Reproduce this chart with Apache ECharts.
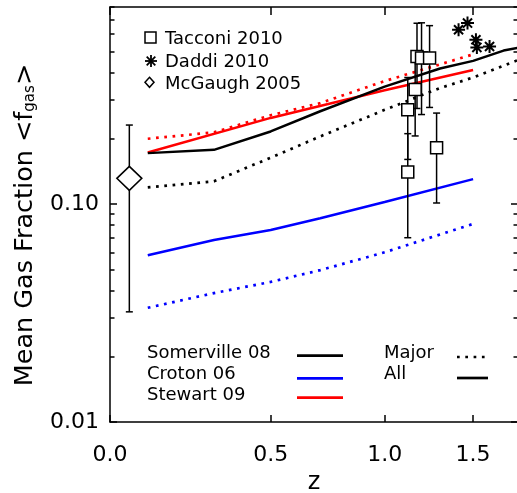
<!DOCTYPE html>
<html>
<head>
<meta charset="utf-8">
<script src="https://cdn.jsdelivr.net/npm/echarts@6/dist/echarts.min.js"></script>
<style>
html,body{margin:0;padding:0;background:#fff;}
#chart{width:517px;height:493px;}
</style>
</head>
<body>
<div id="chart"></div>
<script>
// ---------------- data ----------------
// Somerville 08
const zSomervilleAll = [0.1, 0.3, 0.5, 0.7, 1.0, 1.3, 1.5, 1.7, 1.8];
const somervilleAll = [0.171, 0.177, 0.215, 0.266, 0.345, 0.418, 0.453, 0.505, 0.52];
const zSomervilleMajor = [0.1, 0.3, 0.5, 0.7, 1.0, 1.3, 1.5, 1.8];
const somervilleMajor = [0.119, 0.127, 0.163, 0.204, 0.27, 0.34, 0.38, 0.457];
// Croton 06
const zCroton = [0.1, 0.3, 0.5, 0.7, 1.0, 1.5];
const crotonAll = [0.0582, 0.0683, 0.0759, 0.0859, 0.102, 0.130];
const crotonMajor = [0.0334, 0.039, 0.0439, 0.0497, 0.060, 0.081];
// Stewart 09
const zStewartAll = [0.1, 0.5, 1.0, 1.5];
const stewartAll = [0.172, 0.248, 0.332, 0.411];
const zStewartMajor = [0.1, 0.3, 0.5, 0.7, 1.0, 1.5];
const stewartMajor = [0.199, 0.213, 0.255, 0.29, 0.366, 0.485];
// Observations
const tacconiZ = [1.12, 1.12, 1.16, 1.17, 1.195, 1.24, 1.28];
const tacconiF = [0.27, 0.14, 0.335, 0.474, 0.467, 0.467, 0.181];
const tacconiErr = [0.11, 0.07, 0.13, 0.20, 0.21, 0.19, 0.08];
const daddiZ = [1.41, 1.465, 1.518, 1.524, 1.606];
const daddiF = [0.629, 0.675, 0.566, 0.522, 0.527];
const mcgaughZ = [0.05];
const mcgaughF = [0.131];
const mcgaughErr = [0.099];
// Axes
const zRange = [0, 1.8];
const fRange = [0.01, 0.8];
const xTickZ = [0.0, 0.5, 1.0, 1.5];
const xTickLabels = ['0.0', '0.5', '1.0', '1.5'];
const yTickVals = [0.01, 0.1];
const yTickLabels = ['0.01', '0.10'];
const yMinorVals = [0.02, 0.03, 0.04, 0.05, 0.06, 0.07, 0.08, 0.09, 0.2, 0.3, 0.4, 0.5, 0.6, 0.7, 0.8];

// ---------------- helpers ----------------
const FF = 'DejaVu Sans';
const lz = z => Math.log10(1 + z);           // x axis is log(1+z)
const pairs = (zs, fs) => zs.map((z, i) => [lz(z), fs[i]]);
const errs = (zs, fs, es) => zs.map((z, i) => [lz(z), fs[i] - es[i], fs[i] + es[i]]);
const xTickPos = xTickZ.map(lz);
const yTickPos = yTickVals.map(v => Math.log10(v));
const yMinorPos = yMinorVals.map(v => Math.log10(v));
const xMin = lz(zRange[0]), xMax = lz(zRange[1]);
const yMinL = Math.log10(fRange[0]), yMaxL = Math.log10(fRange[1]);
const xLabel = v => { const i = xTickPos.findIndex(p => Math.abs(p - v) < 1e-6); return i >= 0 ? xTickLabels[i] : ''; };
const yLabel = v => { const i = yTickPos.findIndex(p => Math.abs(p - v) < 1e-6); return i >= 0 ? yTickLabels[i] : ''; };

const AX = '#000';
const noLine = {show: false};
const noSplit = {show: false};

const lineSeries = (name, data, color, dotted) => ({
  type: 'line', name, data, xAxisIndex: 0, yAxisIndex: 0,
  showSymbol: false, symbol: 'none', silent: true, z: 2,
  lineStyle: dotted ? {color, width: 2.7, type: [2.7, 5.6], cap: 'butt'} : {color, width: 2.5}
});

const errorSeries = (data) => ({
  type: 'custom', xAxisIndex: 0, yAxisIndex: 0, silent: true, z: 3,
  data,
  encode: {x: 0, y: [1, 2]},
  renderItem: (params, api) => {
    const x = api.value(0), lo = api.value(1), hi = api.value(2);
    const a = api.coord([x, lo]), b = api.coord([x, hi]);
    const c = 3.5;
    const st = {stroke: '#000', lineWidth: 1.5};
    return {type: 'group', children: [
      {type: 'line', shape: {x1: a[0], y1: a[1], x2: b[0], y2: b[1]}, style: st},
      {type: 'line', shape: {x1: a[0] - c, y1: a[1], x2: a[0] + c, y2: a[1]}, style: st},
      {type: 'line', shape: {x1: b[0] - c, y1: b[1], x2: b[0] + c, y2: b[1]}, style: st}
    ]};
  }
});

const asteriskPath = 'path://M10 0 L10 20 M0 10 L20 10 M3 3 L17 17 M3 17 L17 3';

const legendText = (text, x, y, size) => ({
  type: 'text', x, y, silent: true,
  style: {text, fill: '#000', font: size + 'px "' + FF + '"', align: 'left', verticalAlign: 'middle'}
});
const hLine = (x1, x2, y, color, dotted) => ({
  type: 'line', silent: true,
  shape: {x1, y1: y, x2, y2: y},
  style: dotted ? {stroke: color, lineWidth: 2.7, lineDash: [2.7, 5.6]} : {stroke: color, lineWidth: 2.7}
});

const option = {
  animation: false,
  backgroundColor: '#fff',
  textStyle: {fontFamily: FF},
  grid: {left: 110, top: 7, width: 408, height: 415, containLabel: false, outerBoundsMode: 'none'},
  xAxis: [
    {
      type: 'value', position: 'bottom', min: xMin, max: xMax,
      axisLine: {show: true, onZero: false, lineStyle: {color: AX, width: 1.5}},
      axisTick: {show: true, inside: true, length: 7, customValues: xTickPos, lineStyle: {color: AX, width: 1.5}},
      axisLabel: {show: true, customValues: xTickPos, formatter: xLabel, color: '#000', fontSize: 22, fontFamily: FF, margin: 22},
      splitLine: noSplit,
      name: 'z', nameLocation: 'middle', nameGap: 48,
      nameTextStyle: {color: '#000', fontSize: 24, fontFamily: FF}
    },
    {
      type: 'value', position: 'top', min: xMin, max: xMax,
      axisLine: {show: true, onZero: false, lineStyle: {color: AX, width: 1.5}},
      axisTick: {show: true, inside: true, length: 8, customValues: xTickPos, lineStyle: {color: AX, width: 1.5}},
      axisLabel: {show: false},
      splitLine: noSplit
    }
  ],
  yAxis: [
    { // data axis (log)
      type: 'log', logBase: 10, min: fRange[0], max: fRange[1], position: 'left',
      axisLine: noLine, axisTick: {show: false}, axisLabel: {show: false}, splitLine: noSplit, minorTick: {show: false}
    },
    { // left major ticks + labels
      type: 'value', position: 'left', min: yMinL, max: yMaxL,
      axisLine: {show: true, onZero: false, lineStyle: {color: AX, width: 1.5}},
      axisTick: {show: true, inside: true, length: 7, customValues: yTickPos, lineStyle: {color: AX, width: 1.5}},
      axisLabel: {show: true, customValues: yTickPos, formatter: yLabel, color: '#000', fontSize: 22, fontFamily: FF, margin: 11},
      splitLine: noSplit
    },
    { // left minor ticks
      type: 'value', position: 'left', min: yMinL, max: yMaxL,
      axisLine: noLine,
      axisTick: {show: true, inside: true, length: 4.5, customValues: yMinorPos, lineStyle: {color: AX, width: 1.5}},
      axisLabel: {show: false}, splitLine: noSplit
    },
    { // right major ticks
      type: 'value', position: 'right', min: yMinL, max: yMaxL,
      axisLine: {show: true, onZero: false, lineStyle: {color: AX, width: 1.5}},
      axisTick: {show: true, inside: true, length: 7, customValues: yTickPos, lineStyle: {color: AX, width: 1.5}},
      axisLabel: {show: false}, splitLine: noSplit
    },
    { // right minor ticks
      type: 'value', position: 'right', min: yMinL, max: yMaxL,
      axisLine: noLine,
      axisTick: {show: true, inside: true, length: 4.5, customValues: yMinorPos, lineStyle: {color: AX, width: 1.5}},
      axisLabel: {show: false}, splitLine: noSplit
    }
  ],
  series: [
    lineSeries('Croton 06 Major', pairs(zCroton, crotonMajor), '#0000ff', true),
    lineSeries('Croton 06 All', pairs(zCroton, crotonAll), '#0000ff', false),
    lineSeries('Stewart 09 Major', pairs(zStewartMajor, stewartMajor), '#ff0000', true),
    lineSeries('Stewart 09 All', pairs(zStewartAll, stewartAll), '#ff0000', false),
    lineSeries('Somerville 08 Major', pairs(zSomervilleMajor, somervilleMajor), '#000000', true),
    lineSeries('Somerville 08 All', pairs(zSomervilleAll, somervilleAll), '#000000', false),
    errorSeries(errs(tacconiZ, tacconiF, tacconiErr)),
    errorSeries(errs(mcgaughZ, mcgaughF, mcgaughErr)),
    {
      type: 'scatter', name: 'Tacconi 2010', xAxisIndex: 0, yAxisIndex: 0, z: 4, silent: true,
      data: pairs(tacconiZ, tacconiF), symbol: 'rect', symbolSize: 12,
      itemStyle: {color: '#fff', borderColor: '#000', borderWidth: 1.5, opacity: 1}
    },
    {
      type: 'scatter', name: 'Daddi 2010', xAxisIndex: 0, yAxisIndex: 0, z: 4, silent: true,
      data: pairs(daddiZ, daddiF), symbol: asteriskPath, symbolSize: 13,
      itemStyle: {color: 'rgba(0,0,0,0)', borderColor: '#000', borderWidth: 2, opacity: 1}
    },
    {
      type: 'scatter', name: 'McGaugh 2005', xAxisIndex: 0, yAxisIndex: 0, z: 4, silent: true,
      data: pairs(mcgaughZ, mcgaughF), symbol: 'diamond', symbolSize: [25, 24],
      itemStyle: {color: '#fff', borderColor: '#000', borderWidth: 1.5, opacity: 1}
    }
  ],
  graphic: [
    // y-axis title
    {
      type: 'text', x: 25, y: 225, rotation: Math.PI / 2, silent: true,
      style: {
        text: 'Mean Gas Fraction <f{s|gas}>',
        fill: '#000', font: '25.5px "' + FF + '"', align: 'center', verticalAlign: 'middle',
        rich: {s: {font: '15px "' + FF + '"', fontSize: 15, fontFamily: FF, verticalAlign: 'bottom', fill: '#000'}}
      }
    },
    // top-left key (observations)
    {type: 'rect', silent: true, shape: {x: 145, y: 32, width: 11, height: 11}, style: {fill: '#fff', stroke: '#000', lineWidth: 1.5}},
    {type: 'group', silent: true, x: 151, y: 61, children: [
      {type: 'line', shape: {x1: 0, y1: -6, x2: 0, y2: 6}, style: {stroke: '#000', lineWidth: 1.8}},
      {type: 'line', shape: {x1: -6, y1: 0, x2: 6, y2: 0}, style: {stroke: '#000', lineWidth: 1.8}},
      {type: 'line', shape: {x1: -4.3, y1: -4.3, x2: 4.3, y2: 4.3}, style: {stroke: '#000', lineWidth: 1.8}},
      {type: 'line', shape: {x1: -4.3, y1: 4.3, x2: 4.3, y2: -4.3}, style: {stroke: '#000', lineWidth: 1.8}}
    ]},
    {type: 'polygon', silent: true, shape: {points: [[149.5, 77.3], [154, 82.3], [149.5, 87.3], [145, 82.3]]}, style: {fill: '#fff', stroke: '#000', lineWidth: 1.5}},
    legendText('Tacconi 2010', 165, 39, 18),
    legendText('Daddi 2010', 165, 62.5, 18),
    legendText('McGaugh 2005', 165, 84, 18),
    // bottom key (models)
    legendText('Somerville 08', 147, 353.3, 18),
    legendText('Croton 06', 147, 374.5, 18),
    legendText('Stewart 09', 147, 395, 18),
    hLine(297, 343, 355.7, '#000000', false),
    hLine(297, 343, 378.3, '#0000ff', false),
    hLine(297, 343, 397.7, '#ff0000', false),
    legendText('Major', 384, 353.5, 18),
    legendText('All', 384, 374.5, 18),
    hLine(457, 490, 357, '#000000', true),
    hLine(457, 488, 378, '#000000', false)
  ]
};

const chart = echarts.init(document.getElementById('chart'), null, {renderer: 'canvas', width: 517, height: 493});
chart.setOption(option);
</script>
</body>
</html>
